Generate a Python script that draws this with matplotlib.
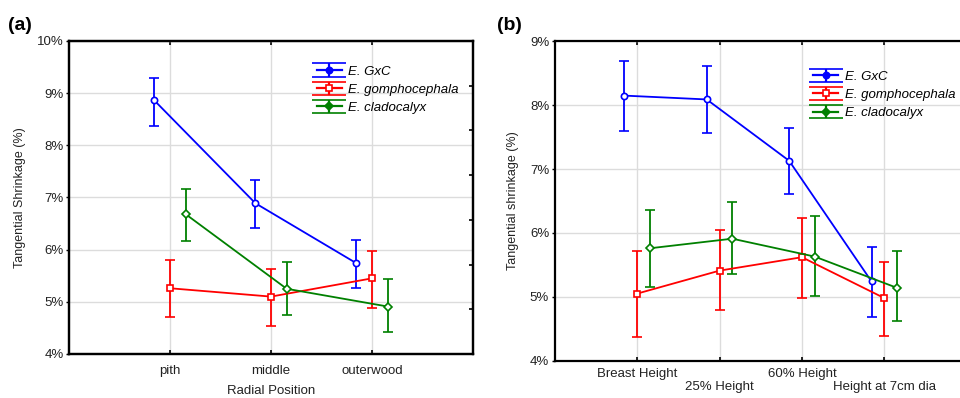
import numpy as np
import matplotlib
matplotlib.use("Agg")
import matplotlib.pyplot as plt
from matplotlib.ticker import FuncFormatter

plt.rcParams['font.family'] = ['Liberation Sans', 'DejaVu Sans']

species = ['E. GxC', 'E. gomphocephala', 'E. cladocalyx']
colors = ['#0000ff', '#ff0000', '#008000']
markers = ['o', 's', 'D']

# Panel (a): radial position
cats_a = ['pith', 'middle', 'outerwood']
gxc_a = [8.86, 6.89, 5.74]
gxc_a_lo = [8.38, 6.41, 5.26]
gxc_a_hi = [9.30, 7.33, 6.18]
gom_a = [5.26, 5.10, 5.45]
gom_a_lo = [4.71, 4.54, 4.89]
gom_a_hi = [5.80, 5.63, 5.97]
cla_a = [6.68, 5.25, 4.91]
cla_a_lo = [6.17, 4.74, 4.42]
cla_a_hi = [7.17, 5.76, 5.43]

# Panel (b): height position
cats_b = ['Breast Height', '25% Height', '60% Height', 'Height at 7cm dia']
gxc_b = [8.15, 8.09, 7.13, 5.24]
gxc_b_lo = [7.59, 7.56, 6.61, 4.68]
gxc_b_hi = [8.69, 8.61, 7.64, 5.78]
gom_b = [5.05, 5.41, 5.62, 4.98]
gom_b_lo = [4.37, 4.79, 4.98, 4.39]
gom_b_hi = [5.72, 6.04, 6.23, 5.55]
cla_b = [5.76, 5.91, 5.63, 5.14]
cla_b_lo = [5.16, 5.35, 5.01, 4.62]
cla_b_hi = [6.36, 6.48, 6.27, 5.71]

offsets = [-0.155, 0.0, 0.155]

fig = plt.figure(figsize=(9.6, 3.98), dpi=100)
axa = fig.add_axes([0.0719, 0.1106, 0.4208, 0.7864])
axb = fig.add_axes([0.5778, 0.0937, 0.4292, 0.8025])

pct = FuncFormatter(lambda v, p: f'{v:.0f}%')


def draw(ax, cats, series, ylim):
    x = np.arange(1, len(cats) + 1)
    handles = []
    for (vals, lo, hi), c, m, off, lab in zip(series, colors, markers, offsets, species):
        vals = np.array(vals); lo = np.array(lo); hi = np.array(hi)
        ms = 4.5 if m != 'D' else 4
        ax.errorbar(x + off, vals, yerr=[vals - lo, hi - vals], color=c,
                    marker=m, ms=ms, mfc='white', mec=c, mew=1.2,
                    lw=1.3, elinewidth=1.3, capsize=3.6, capthick=1.3, zorder=3)
        h = ax.errorbar([np.nan], [np.nan], yerr=[np.nan], color=c, marker=m,
                        ms=ms, mfc=c if m != 's' else 'white', mec=c, mew=1.2,
                        lw=1.6, elinewidth=1.6, capsize=12, capthick=1.6, label=lab)
        handles.append(h)
    ax.set_xlim(0, len(cats) + 1)
    ax.set_ylim(*ylim)
    ax.set_xticks(x)
    ax.yaxis.set_major_formatter(pct)
    ax.grid(True, color='#dcdcdc', lw=1.0, zorder=0)
    ax.set_axisbelow(True)
    for s in ax.spines.values():
        s.set_linewidth(1.6)
    ax.tick_params(axis='x', direction='in', length=3, width=1.2, top=True,
                   labelsize=9.5, colors='black', labelcolor='#222222', pad=8)
    ax.tick_params(axis='y', direction='out', length=2, width=1.0,
                   labelsize=9.5, labelcolor='#222222', pad=2)
    return handles


ha = draw(axa, cats_a, [(gxc_a, gxc_a_lo, gxc_a_hi), (gom_a, gom_a_lo, gom_a_hi),
                        (cla_a, cla_a_lo, cla_a_hi)], (4, 10))
axa.set_xticklabels(cats_a)
axa.set_yticks(np.arange(4, 11, 1))
axa.set_ylabel('Tangential Shrinkage (%)', fontsize=9, color='#222222', labelpad=8)
axa.set_xlabel('Radial Position', fontsize=9.5, color='#222222', labelpad=6)
axa.legend(handles=ha, loc='upper left', bbox_to_anchor=(0.613, 0.922), frameon=False,
           prop={'style': 'italic', 'size': 9.5}, handlelength=1.9, handletextpad=0.5,
           labelspacing=0.45, borderpad=0, borderaxespad=0)
ra = axa.twinx()
ra.set_ylim(0, 7)
ra.set_yticks(np.arange(1, 7))
ra.tick_params(axis='y', direction='in', length=3, width=1.2, labelright=False)
for s in ra.spines.values():
    s.set_linewidth(1.6)

hb = draw(axb, cats_b, [(gxc_b, gxc_b_lo, gxc_b_hi), (gom_b, gom_b_lo, gom_b_hi),
                        (cla_b, cla_b_lo, cla_b_hi)], (4, 9))
axb.set_xticklabels([lab if i % 2 == 0 else '\n' + lab for i, lab in enumerate(cats_b)])
axb.set_yticks(np.arange(4, 10, 1))
axb.tick_params(axis='x', pad=5)
axb.set_ylabel('Tangential shrinkage (%)', fontsize=9, color='#222222', labelpad=8)
axb.legend(handles=hb, loc='upper left', bbox_to_anchor=(0.627, 0.908), frameon=False,
           prop={'style': 'italic', 'size': 9.5}, handlelength=1.9, handletextpad=0.5,
           labelspacing=0.45, borderpad=0, borderaxespad=0)

fig.text(0.008, 0.915, '(a)', fontsize=14, fontweight='bold', ha='left', va='bottom')
fig.text(0.518, 0.915, '(b)', fontsize=14, fontweight='bold', ha='left', va='bottom')

fig.savefig('out.png', dpi=100)
